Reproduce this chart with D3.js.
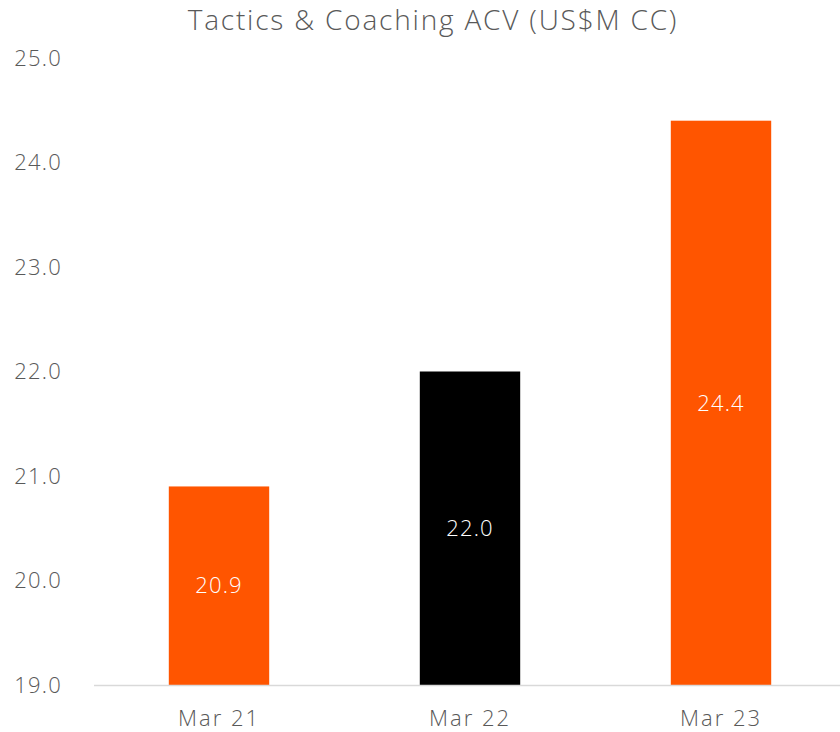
<!DOCTYPE html>
<html>
<head>
<meta charset="utf-8">
<script src="https://cdn.jsdelivr.net/npm/d3@7"></script>
<style>
  html, body { margin: 0; padding: 0; background: #fff; }
  svg { display: block; font-family: "Open Sans", "Lato", sans-serif; font-weight: 300; }
</style>
</head>
<body>
<script>
const categories = ["Mar 21", "Mar 22", "Mar 23"];
const values = [20.9, 22.0, 24.4];
const barColors = ["#FF5500", "#000000", "#FF5500"];
const yTicks = [19, 20, 21, 22, 23, 24, 25];
const title = "Tactics & Coaching ACV (US$M CC)";

const W = 840, H = 732;
const FONT = "'Open Sans', Lato, sans-serif";
const svg = d3.select("body").append("svg").attr("width", W).attr("height", H);

const x = d3.scaleBand().domain(categories).range([93.5, 846.5]).paddingInner(0.6).paddingOuter(0.3);
const y = d3.scaleLinear().domain([19, 25]).range([685, 58]);

svg.append("text")
  .attr("x", 433).attr("y", 30)
  .attr("text-anchor", "middle")
  .attr("fill", "#595959")
  .attr("font-size", 28)
  .attr("letter-spacing", 1.8)
  .text(title);

// y axis labels
const yAxis = d3.axisLeft(y).tickValues(yTicks).tickFormat(d3.format(".1f")).tickSize(0).tickPadding(0);
const yg = svg.append("g").attr("transform", "translate(62,0)").call(yAxis);
yg.select(".domain").remove();
yg.selectAll("text").attr("fill", "#595959").attr("font-size", 22).attr("font-family", FONT)
  .attr("font-weight", 300).attr("letter-spacing", 1.2);

// bars
svg.selectAll("rect.bar").data(values).enter().append("rect")
  .attr("class", "bar")
  .attr("x", (d, i) => x(categories[i]))
  .attr("width", x.bandwidth())
  .attr("y", d => y(d))
  .attr("height", d => y(19) - y(d))
  .attr("fill", (d, i) => barColors[i]);

// x axis
const xAxis = d3.axisBottom(x).tickSize(0).tickPadding(0);
const xg = svg.append("g").attr("transform", "translate(0,685)").call(xAxis);
xg.select(".domain").remove();
svg.append("line").attr("x1", 94).attr("x2", 840).attr("y1", 685.5).attr("y2", 685.5)
  .attr("stroke", "#d9d9d9").attr("stroke-width", 1.5);
xg.selectAll("text").attr("fill", "#595959").attr("font-size", 22)
  .attr("font-family", FONT).attr("font-weight", 300).attr("letter-spacing", 2)
  .attr("y", 41).attr("dy", null);

// value labels
svg.selectAll("text.val").data(values).enter().append("text")
  .attr("class", "val")
  .attr("x", (d, i) => x(categories[i]) + x.bandwidth() / 2)
  .attr("y", d => (y(d) + y(19)) / 2)
  .attr("dy", "0.35em")
  .attr("text-anchor", "middle")
  .attr("fill", "#fff")
  .attr("font-size", 22)
  .attr("letter-spacing", 1.2)
  .text(d => d3.format(".1f")(d));
</script>
</body>
</html>
